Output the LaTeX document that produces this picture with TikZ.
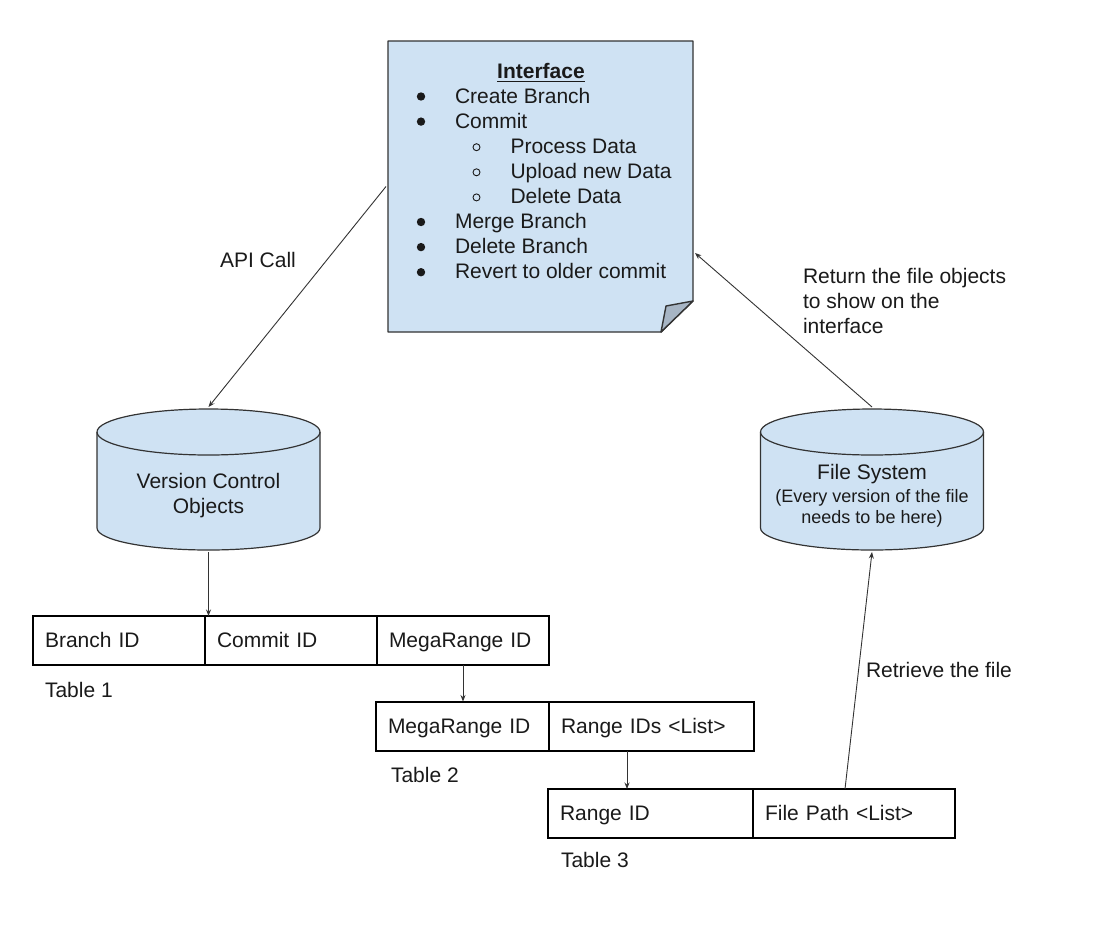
\documentclass[tikz,border=0pt]{standalone}
\usepackage{fontspec}
\setmainfont{Liberation Sans}
\usetikzlibrary{arrows.meta,calc}

\definecolor{noteblue}{HTML}{CFE2F3}
\definecolor{foldgray}{HTML}{A7B5C4}
\definecolor{edge}{HTML}{333333}
\definecolor{ink}{HTML}{1A1A1A}

\tikzset{
  txt/.style={inner sep=0pt, outer sep=0pt, text=ink, font=\fontsize{21}{25}\selectfont},
  smalltxt/.style={txt, font=\fontsize{18}{21}\selectfont},
  arr/.style={draw=edge, line width=0.9pt, -{Stealth[length=6.5pt,width=5pt]}},
  cell/.style={draw=black, line width=2pt, anchor=north west, outer sep=0pt,
    inner xsep=12pt, inner ysep=0pt, minimum height=49pt, text width=#1,
    align=left, text height=16pt, text depth=2pt, text=ink,
    font=\fontsize{21}{25}\selectfont},
  % database drawn as a cylinder inside a plain rectangle node
  db/.style={minimum width=227pt, minimum height=145pt, inner sep=0pt, outer sep=0pt,
    path picture={
      \path[fill=noteblue, draw=edge, line width=1.2pt]
        ([shift={(2pt,-25pt)}]path picture bounding box.north west)
        -- ([shift={(2pt,24pt)}]path picture bounding box.south west)
        arc[start angle=180, end angle=360, x radius=111.5pt, y radius=22pt]
        -- ([shift={(-2pt,-25pt)}]path picture bounding box.north east)
        arc[start angle=0, end angle=180, x radius=111.5pt, y radius=23pt]
        -- cycle;
      \draw[edge, line width=1.2pt]
        ([shift={(2pt,-25pt)}]path picture bounding box.north west)
        arc[start angle=180, end angle=360, x radius=111.5pt, y radius=23pt];
    }},
  % sticky note with a folded lower right corner
  note/.style={minimum width=309pt, minimum height=295pt, inner sep=0pt, outer sep=0pt,
    path picture={
      \path[fill=noteblue, draw=edge, line width=1.4pt, line join=round]
        ([shift={(2pt,-2pt)}]path picture bounding box.north west)
        -- ([shift={(-2pt,-2pt)}]path picture bounding box.north east)
        -- ([shift={(-2pt,33pt)}]path picture bounding box.south east)
        -- ([shift={(-34pt,2pt)}]path picture bounding box.south east)
        -- ([shift={(2pt,2pt)}]path picture bounding box.south west)
        -- cycle;
      \path[fill=foldgray, draw=edge, line width=1.4pt, line join=round]
        ([shift={(-2pt,33pt)}]path picture bounding box.south east)
        -- ([shift={(-29pt,28pt)}]path picture bounding box.south east)
        -- ([shift={(-34pt,2pt)}]path picture bounding box.south east)
        -- cycle;
    }},
}

\begin{document}
\begin{tikzpicture}[x=1pt, y=1pt]
\useasboundingbox[fill=white] (0,0) rectangle (1102,-932);

% ---------- interface note ----------
\node[note] (iface) at (540.5,-186.5) {};
\node[txt, anchor=base, font=\fontsize{21}{25}\selectfont\bfseries] (ttl) at (541,-78) {Interface};
\draw[ink, line width=1.5pt] ([yshift=-3.5pt]ttl.base west) -- ([yshift=-3.5pt]ttl.base east);

\node[txt, anchor=base west] (l1) at (455,-103)   {Create Branch};
\node[txt, anchor=base west] (l2) at (455,-128.1) {Commit};
\node[txt, anchor=base west] (l3) at (510.5,-153.2) {Process Data};
\node[txt, anchor=base west] (l4) at (510.5,-178.3) {Upload new Data};
\node[txt, anchor=base west] (l5) at (510.5,-203.4) {Delete Data};
\node[txt, anchor=base west] (l6) at (455,-228.5) {Merge Branch};
\node[txt, anchor=base west] (l7) at (455,-253.6) {Delete Branch};
\node[txt, anchor=base west] (l8) at (455,-278.7) {Revert to older commit};

% list markers
\foreach \b in {103,128.1,228.5,253.6,278.7}
  \fill[ink] (421,-\b+6.5) circle (4.2pt);
\foreach \b in {153.2,178.3,203.4}
  \draw[ink, line width=0.9pt] (476.5,-\b+6) circle (3.5pt);

% ---------- databases ----------
\node[db] (vco) at (208.5,-479.5) {};
\node[txt, anchor=base] (vcoa) at (208.5,-488) {Version Control};
\node[txt, anchor=base] (vcob) at (208.5,-513) {Objects};

\node[db] (fs) at (872,-479.5) {};
\node[txt, anchor=base] (fsa) at (872,-479) {File System};
\node[smalltxt, anchor=base] (fsb) at (872,-502) {(Every version of the file};
\node[smalltxt, anchor=base] (fsc) at (872,-523) {needs to be here)};

% ---------- tables ----------
\node[cell=148pt] (t1a) at (33,-616)  {Branch ID};
\node[cell=148pt] (t1b) at (205,-616) {Commit ID};
\node[cell=148pt] (t1c) at (377,-616) {MegaRange ID};
\node[txt, anchor=base west] (t1l) at (45,-697) {Table 1};

\node[cell=149pt] (t2a) at (376,-701.5) {MegaRange ID};
\node[cell=181pt] (t2b) at (549,-701.5) {Range IDs <List>};
\node[txt, anchor=base west] (t2l) at (391,-782.5) {Table 2};

\node[cell=181pt] (t3a) at (548,-789) {Range ID};
\node[cell=178pt] (t3b) at (753,-789) {File Path <List>};
\node[txt, anchor=base west] (t3l) at (561,-867) {Table 3};

% ---------- connectors ----------
\draw[arr] (iface.west) -- (vco.north);
\draw[arr] (fs.north) -- ([yshift=-66.5pt]iface.east);
\draw[arr] (vco.south) -- (vco.south |- t1b.north);
\draw[arr] (t1c.south) -- (t1c.south |- t2a.north);
\draw[arr] ([xshift=-24.5pt]t2b.south) -- ([xshift=-24.5pt]t2b.south |- t3a.north);
\draw[arr] ([xshift=-9pt]t3b.north) -- (fs.south);

% ---------- connector labels ----------
\node[txt, anchor=base west] (api) at (220,-267) {API Call};
\node[txt, anchor=base west] (ret1) at (803,-283) {Return the file objects};
\node[txt, anchor=base west] (ret2) at (803,-308) {to show on the};
\node[txt, anchor=base west] (ret3) at (803,-333) {interface};
\node[txt, anchor=base west] (retr) at (866,-677) {Retrieve the file};
\end{tikzpicture}
\end{document}
